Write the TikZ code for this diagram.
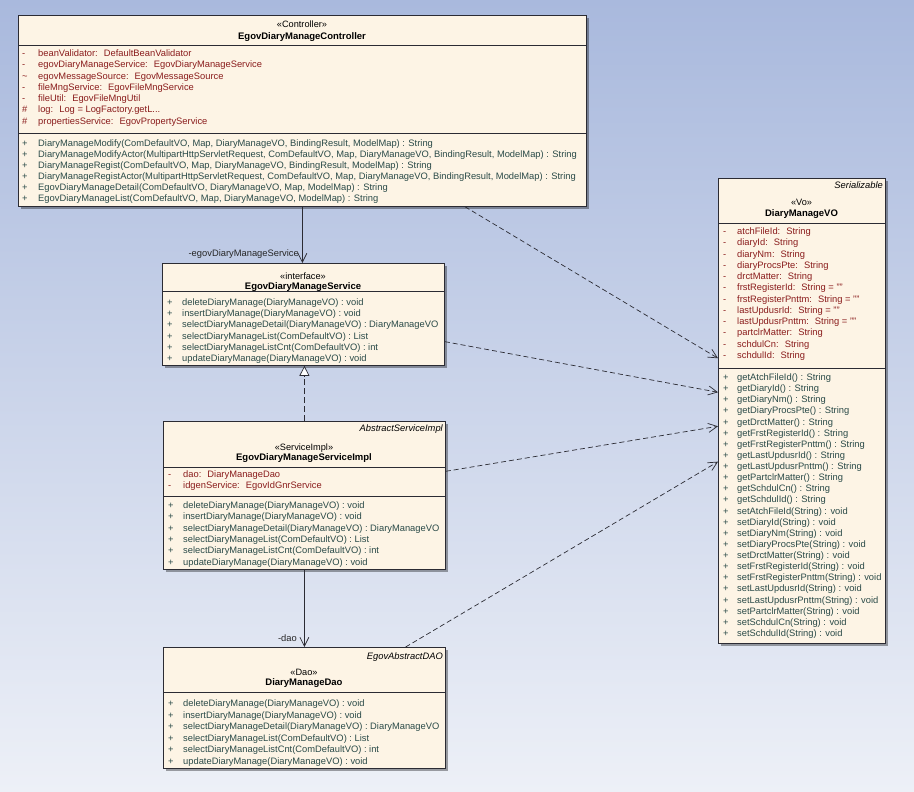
\documentclass[tikz,border=0pt]{standalone}
\usepackage{fontspec}
\setmainfont{Liberation Sans}
\usetikzlibrary{arrows.meta,shadows,calc}
\definecolor{bgtop}{HTML}{A9B9DD}
\definecolor{bgbot}{HTML}{EDF0F7}
\definecolor{cream}{HTML}{FDF4E5}
\definecolor{attrc}{HTML}{8A1C1C}
\definecolor{methc}{HTML}{2A4A48}
\definecolor{linec}{HTML}{2B2B33}
\tikzset{
 classbox/.style={draw=linec, line width=0.8pt, fill=cream, inner sep=0pt, anchor=north west,
   drop shadow={shadow xshift=2.5pt,shadow yshift=-2.5pt,opacity=0.35,fill=black}},
 sepline/.style={draw=linec, line width=0.8pt},
 txt/.style={inner sep=0pt, anchor=base west, font=\fontsize{9.35}{11}\selectfont},
 attrtxt/.style={txt, text=attrc},
 methtxt/.style={txt, text=methc},
 hdr/.style={inner sep=0pt, anchor=base, font=\fontsize{9.2}{11}\selectfont},
 hdrb/.style={inner sep=0pt, anchor=base, font=\fontsize{9.5}{11}\selectfont\bfseries},
 parentcls/.style={inner sep=0pt, anchor=base east, font=\fontsize{9.35}{11}\selectfont\itshape},
 assoc/.style={draw=linec, line width=0.7pt, -{Straight Barb[length=9pt,width=9pt]}},
 dep/.style={assoc, dash pattern=on 5pt off 3pt},
 realize/.style={draw=linec, line width=0.7pt, dash pattern=on 6pt off 3pt,
   -{Triangle[open,length=10pt,width=10pt,fill=white]}},
 lbl/.style={inner sep=0pt, anchor=base east, font=\fontsize{9.35}{11}\selectfont, text=black!85},
}
\def\svcmethods{deleteDiaryManage(DiaryManageVO) : void,
 insertDiaryManage(DiaryManageVO) : void,
 selectDiaryManageDetail(DiaryManageVO) : DiaryManageVO,
 selectDiaryManageList(ComDefaultVO) : List,
 selectDiaryManageListCnt(ComDefaultVO) : int,
 updateDiaryManage(DiaryManageVO) : void}
\begin{document}
\begin{tikzpicture}[x=1pt,y=-1pt]
\useasboundingbox (0,0) rectangle (914,792);
\shade[top color=bgtop, bottom color=bgbot] (0,0) rectangle (914,792);

% ---------------- Controller ----------------
\node[classbox, minimum width=568pt, minimum height=191pt] (ctrl) at (18,15) {};
\node[hdr] (ctrlst) at (302,27.5) {«Controller»};
\node[hdrb] (ctrlnm) at (302,39.5) {EgovDiaryManageController};
\draw[sepline] (18,45) -- (586,45);
\draw[sepline] (18,133) -- (586,133);
\foreach \m/\t [count=\i from 0] in {
 -/{beanValidator:~ DefaultBeanValidator},
 -/{egovDiaryManageService:~ EgovDiaryManageService},
 \textasciitilde/{egovMessageSource:~ EgovMessageSource},
 -/{fileMngService:~ EgovFileMngService},
 -/{fileUtil:~ EgovFileMngUtil},
 \#/{log:~ Log = LogFactory.getL...},
 \#/{propertiesService:~ EgovPropertyService}}{
 \node[attrtxt] (cak\i) at (22,56.5+11.3*\i) {\m};
 \node[attrtxt] (ca\i) at (38,56.5+11.3*\i) {\t};
}
\foreach \t [count=\i from 0] in {
 {DiaryManageModify(ComDefaultVO, Map, DiaryManageVO, BindingResult, ModelMap) : String},
 {DiaryManageModifyActor(MultipartHttpServletRequest, ComDefaultVO, Map, DiaryManageVO, BindingResult, ModelMap) : String},
 {DiaryManageRegist(ComDefaultVO, Map, DiaryManageVO, BindingResult, ModelMap) : String},
 {DiaryManageRegistActor(MultipartHttpServletRequest, ComDefaultVO, Map, DiaryManageVO, BindingResult, ModelMap) : String},
 {EgovDiaryManageDetail(ComDefaultVO, DiaryManageVO, Map, ModelMap) : String},
 {EgovDiaryManageList(ComDefaultVO, Map, DiaryManageVO, ModelMap) : String}}{
 \node[methtxt] (cmk\i) at (22,146.5+11*\i) {+};
 \node[methtxt] (cm\i) at (38,146.5+11*\i) {\t};
}

% ---------------- Interface ----------------
\node[classbox, minimum width=282pt, minimum height=102pt] (iface) at (162,263) {};
\node[hdr] (ifst) at (303,279.5) {«interface»};
\node[hdrb] (ifnm) at (303,289.5) {EgovDiaryManageService};
\draw[sepline] (162,291) -- (444,291);
\foreach \t [count=\i from 0] in \svcmethods {
 \node[methtxt] (imk\i) at (167,305.5+11.2*\i) {+};
 \node[methtxt] (im\i) at (182,305.5+11.2*\i) {\t};
}

% ---------------- ServiceImpl ----------------
\node[classbox, minimum width=282pt, minimum height=148pt] (impl) at (163,421) {};
\node[parentcls] (implpar) at (443,431.5) {AbstractServiceImpl};
\node[hdr] (implst) at (304,450.5) {«ServiceImpl»};
\node[hdrb] (implnm) at (304,460.5) {EgovDiaryManageServiceImpl};
\draw[sepline] (163,467) -- (445,467);
\draw[sepline] (163,496) -- (445,496);
\foreach \t [count=\i from 0] in {{dao:~ DiaryManageDao},{idgenService:~ EgovIdGnrService}}{
 \node[attrtxt] (sak\i) at (168,477.5+11*\i) {-};
 \node[attrtxt] (sa\i) at (183,477.5+11*\i) {\t};
}
\foreach \t [count=\i from 0] in \svcmethods {
 \node[methtxt] (smk\i) at (168,508.5+11.3*\i) {+};
 \node[methtxt] (sm\i) at (183,508.5+11.3*\i) {\t};
}

% ---------------- Dao ----------------
\node[classbox, minimum width=282pt, minimum height=121pt] (dao) at (163,647) {};
\node[parentcls] (daopar) at (443,659.5) {EgovAbstractDAO};
\node[hdr] (daost) at (304,675.5) {«Dao»};
\node[hdrb] (daonm) at (304,685.5) {DiaryManageDao};
\draw[sepline] (163,692) -- (445,692);
\foreach \t [count=\i from 0] in \svcmethods {
 \node[methtxt] (dmk\i) at (168,706.5+11.5*\i) {+};
 \node[methtxt] (dm\i) at (183,706.5+11.5*\i) {\t};
}

% ---------------- VO ----------------
\node[classbox, minimum width=167pt, minimum height=465pt] (vo) at (718,178) {};
\node[parentcls] (vopar) at (883,188.5) {Serializable};
\node[hdr] (vost) at (801.5,205.5) {«Vo»};
\node[hdrb] (vonm) at (801.5,216.5) {DiaryManageVO};
\draw[sepline] (718,223) -- (885,223);
\draw[sepline] (718,368) -- (885,368);
\foreach \t [count=\i from 0] in {
 {atchFileId:~ String},{diaryId:~ String},{diaryNm:~ String},{diaryProcsPte:~ String},
 {drctMatter:~ String},{frstRegisterId:~ String = ""},{frstRegisterPnttm:~ String = ""},
 {lastUpdusrId:~ String = ""},{lastUpdusrPnttm:~ String = ""},{partclrMatter:~ String},
 {schdulCn:~ String},{schdulId:~ String}}{
 \node[attrtxt] (vak\i) at (723,234.5+11.27*\i) {-};
 \node[attrtxt] (va\i) at (737,234.5+11.27*\i) {\t};
}
\foreach \t [count=\i from 0] in {
 getAtchFileId() : String, getDiaryId() : String, getDiaryNm() : String,
 getDiaryProcsPte() : String, getDrctMatter() : String, getFrstRegisterId() : String,
 getFrstRegisterPnttm() : String, getLastUpdusrId() : String, getLastUpdusrPnttm() : String,
 getPartclrMatter() : String, getSchdulCn() : String, getSchdulId() : String,
 setAtchFileId(String) : void, setDiaryId(String) : void, setDiaryNm(String) : void,
 setDiaryProcsPte(String) : void, setDrctMatter(String) : void, setFrstRegisterId(String) : void,
 setFrstRegisterPnttm(String) : void, setLastUpdusrId(String) : void, setLastUpdusrPnttm(String) : void,
 setPartclrMatter(String) : void, setSchdulCn(String) : void, setSchdulId(String) : void}{
 \node[methtxt] (vmk\i) at (723,380.5+11.13*\i) {+};
 \node[methtxt] (vm\i) at (737,380.5+11.13*\i) {\t};
}

% ---------------- Connectors ----------------
\draw[assoc] (ctrl.south) -- (ctrl.south |- iface.north);
\node[lbl] (lblsvc) at (299,256.5) {-egovDiaryManageService};
\draw[realize] (impl.north) -- (impl.north |- iface.south);
\draw[assoc] (impl.south) -- (dao.north);
\node[lbl] (lbldao) at (297,641.5) {-dao};

\draw[dep] ($(ctrl.south west)!0.786!(ctrl.south east)$) -- ($(vo.north west)!0.387!(vo.south west)$);
\draw[dep] ($(iface.north east)!0.765!(iface.south east)$) -- ($(vo.north west)!0.460!(vo.south west)$);
\draw[dep] ($(impl.north east)!0.338!(impl.south east)$) -- ($(vo.north west)!0.533!(vo.south west)$);
\draw[dep] ($(dao.north west)!0.858!(dao.north east)$) -- ($(vo.north west)!0.609!(vo.south west)$);
\end{tikzpicture}
\end{document}
